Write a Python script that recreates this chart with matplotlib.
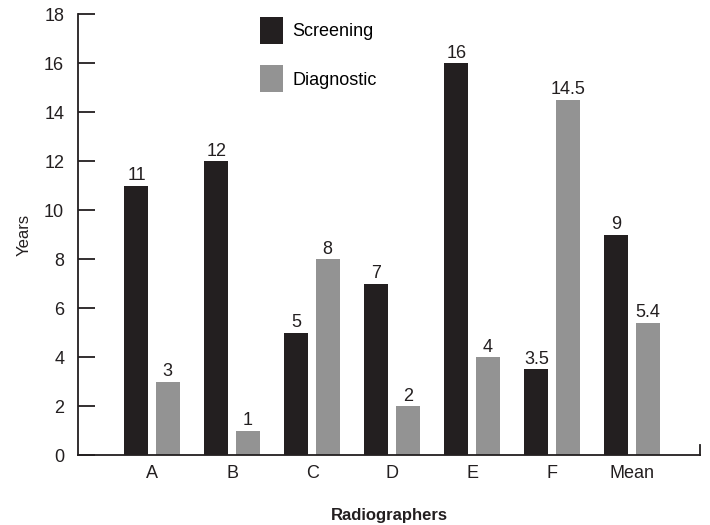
import matplotlib.pyplot as plt
import numpy as np

categories = ["A", "B", "C", "D", "E", "F", "Mean"]
screening = [11, 12, 5, 7, 16, 3.5, 9]
diagnostic = [3, 1, 8, 2, 4, 14.5, 5.4]

plt.rcParams['font.family'] = ['Liberation Sans Narrow', 'Liberation Sans', 'DejaVu Sans']

fig = plt.figure(figsize=(7.1, 5.25), dpi=100)
ax = fig.add_axes([0.11, 0.1333, 0.876, 0.84])

x = np.arange(len(categories))
w = 0.3
b1 = ax.bar(x - 0.195, screening, w, color="#231f20", label="Screening")
b2 = ax.bar(x + 0.195, diagnostic, w, color="#939393", label="Diagnostic")
ax.bar_label(b1, labels=[f"{v:g}" for v in screening], padding=1, fontsize=13, color="#231f20")
ax.bar_label(b2, labels=[f"{v:g}" for v in diagnostic], padding=1, fontsize=13, color="#231f20")

ax.set_xlim(-0.925, 6.85)
ax.set_ylim(0, 18)
ax.set_yticks(range(0, 19, 2))
ax.set_xticks(x)
ax.set_xticklabels(categories)

ax.spines['top'].set_visible(False)
ax.spines['right'].set_bounds(0, 0.4)
for s in ['left', 'bottom', 'right']:
    ax.spines[s].set_linewidth(1.3)
    ax.spines[s].set_color("#231f20")

ax.tick_params(axis='y', direction='in', length=12, width=1.3, labelsize=13,
               colors="#231f20", pad=10)
ax.tick_params(axis='x', length=0, labelsize=13, colors="#231f20", pad=7)

ax.set_ylabel("Years", fontsize=12, color="#231f20", labelpad=9)
ax.set_xlabel("Radiographers", fontsize=12, fontweight="bold", color="#231f20", labelpad=19)

ax.legend(loc="upper left", bbox_to_anchor=(0.266, 1.03), frameon=False, fontsize=13,
          handlelength=1.3, handleheight=1.9, labelspacing=1.2, handletextpad=0.5)

plt.savefig("out.png", dpi=100)
